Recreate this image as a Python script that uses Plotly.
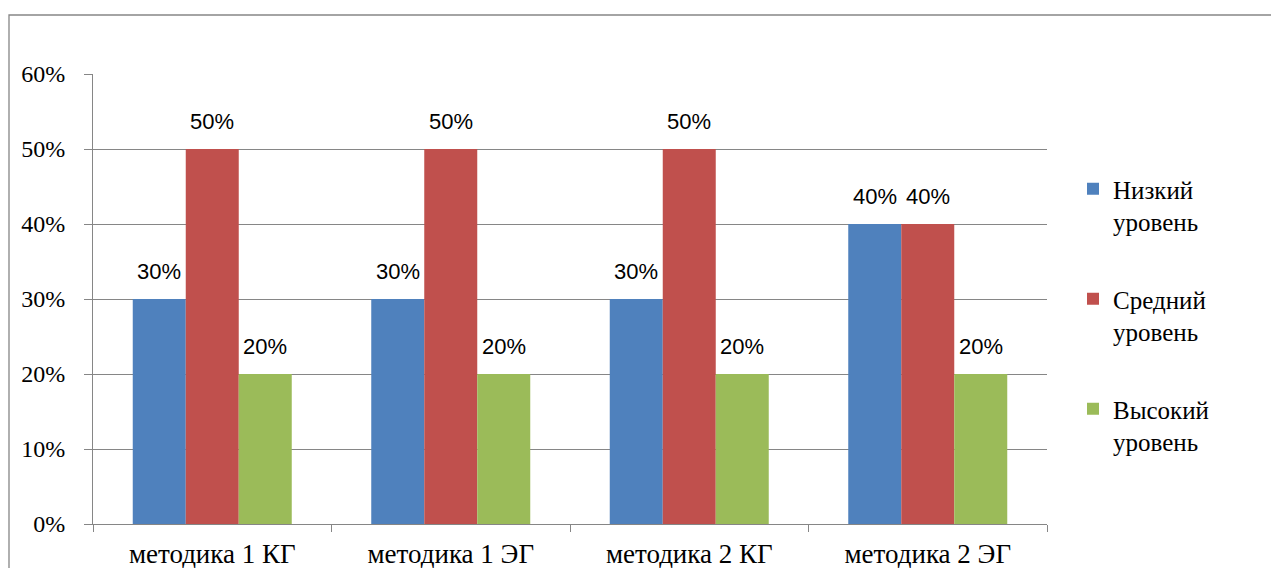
import plotly.graph_objects as go

categories = ["методика 1 КГ", "методика 1 ЭГ", "методика 2 КГ", "методика 2 ЭГ"]
series_names = ["Низкий<br>уровень", "Средний<br>уровень", "Высокий<br>уровень"]
low = [0.30, 0.30, 0.30, 0.40]
mid = [0.50, 0.50, 0.50, 0.40]
high = [0.20, 0.20, 0.20, 0.20]
y_ticks = [0, 0.1, 0.2, 0.3, 0.4, 0.5, 0.6]

colors = ["#4F81BD", "#C0504D", "#9BBB59"]
series = [low, mid, high]

W, H = 1271, 568
ml, mr, mt, mb = 93, 224, 74, 44
pw = W - ml - mr
ph = H - mt - mb
bargap = 1 / 3

serif = "Liberation Serif, DejaVu Serif, serif"
sans = "Liberation Sans"
grid = "#868686"

fig = go.Figure()
for k, (name, vals) in enumerate(zip(series_names, series)):
    fig.add_trace(go.Bar(
        x=categories, y=vals, name=name,
        marker=dict(color=colors[k], line=dict(width=0)),
        legendgroup=f"g{k}",
    ))

bw = (1 - bargap) / 3
annotations = []
for k, vals in enumerate(series):
    for i, v in enumerate(vals):
        annotations.append(dict(
            x=i + (k - 1) * bw, y=v, xref="x", yref="y",
            text=f"{round(v * 100)}%", showarrow=False,
            yanchor="bottom", yshift=13,
            font=dict(family=sans, size=22, color="black"),
        ))

fig.update_layout(
    width=W, height=H,
    margin=dict(l=ml, r=mr, t=mt, b=mb),
    paper_bgcolor="white", plot_bgcolor="white",
    barmode="group", bargap=bargap, bargroupgap=0,
    annotations=annotations,
    showlegend=True,
    legend=dict(
        x=(1073 - ml) / pw, xanchor="left",
        y=(H - mb - 166) / ph, yanchor="top",
        font=dict(family=serif, size=25, color="black"),
        traceorder="grouped", tracegroupgap=42, valign="top",
        bgcolor="rgba(0,0,0,0)",
    ),
    shapes=[dict(
        type="rect", xref="paper", yref="paper",
        x0=(9 - ml) / pw, x1=(1300 - ml) / pw,
        y0=(H - mb - 15) / ph, y1=(H - mb - 620) / ph,
        line=dict(color=grid, width=1.3), fillcolor="rgba(0,0,0,0)",
        layer="below",
    )],
)
fig.update_yaxes(
    range=[0, 0.6], tickvals=y_ticks, tickformat=".0%",
    showgrid=True, gridcolor=grid, gridwidth=1,
    showline=True, linecolor=grid, linewidth=1,
    ticks="outside", ticklen=8, tickcolor=grid,
    tickfont=dict(family=serif, size=24, color="black"),
    ticklabelstandoff=14, zeroline=False, automargin=False,
)
fig.update_xaxes(
    showline=True, linecolor=grid, linewidth=1,
    ticks="outside", ticklen=7, tickcolor=grid, tickson="boundaries",
    tickfont=dict(family=serif, size=27, color="black"),
    ticklabelstandoff=6, automargin=False,
    showgrid=False,
)

fig.write_html("out.html")
